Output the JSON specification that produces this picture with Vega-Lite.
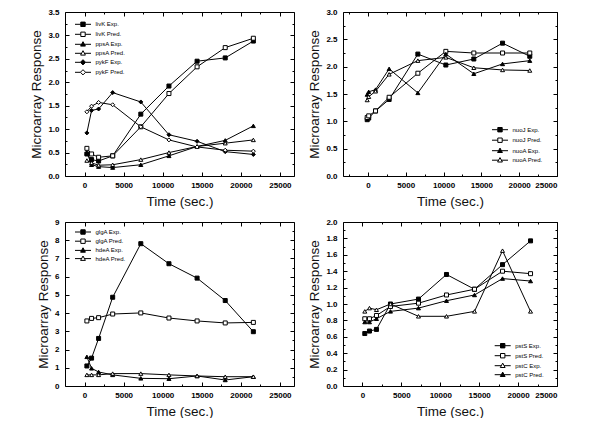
{
  "$schema": "https://vega.github.io/schema/vega-lite/v6.json",
  "background": "white",
  "padding": {"left": 29, "top": 8, "right": 0, "bottom": 0},
  "config": {
    "view": {"stroke": null},
    "axis": {
      "grid": false,
      "domainColor": "black",
      "domainWidth": 1,
      "tickColor": "black",
      "tickSize": -4,
      "tickWidth": 1,
      "labelFont": "Liberation Sans",
      "labelFontWeight": "bold",
      "labelFontSize": 8,
      "labelColor": "black",
      "titleFont": "Liberation Sans",
      "titleFontWeight": 400,
      "titleFontSize": 13.5,
      "titleColor": "#111"
    },
    "axisX": {"titlePadding": 5, "labelPadding": 9},
    "axisY": {"titlePadding": 4, "labelPadding": 10},
    "legend": {
      "title": null,
      "labelFont": "Liberation Sans",
      "labelFontSize": 6,
      "labelColor": "black",
      "symbolSize": 16,
      "symbolStrokeColor": "black",
      "symbolStrokeWidth": 1,
      "symbolOpacity": 1,
      "labelOffset": 9.5,
      "padding": 0
    }
  },
  "resolve": {"scale": {"x": "independent", "y": "independent", "shape": "independent", "fill": "independent"}, "axis": {"x": "independent", "y": "independent"}, "legend": {"shape": "independent", "fill": "independent"}},
  "spacing": 10,
  "vconcat": [
    {
      "spacing": 12,
      "resolve": {"scale": {"x": "independent", "y": "independent", "shape": "independent", "fill": "independent"}, "axis": {"x": "independent", "y": "independent"}, "legend": {"shape": "independent", "fill": "independent"}},
      "hconcat": [
        {
          "width": 229, "height": 164,
          "data": {"values": [
            {"t":300,"v":0.47,"s":"livK Exp."},{"t":900,"v":0.35,"s":"livK Exp."},{"t":1800,"v":0.32,"s":"livK Exp."},{"t":3600,"v":0.43,"s":"livK Exp."},{"t":7200,"v":1.32,"s":"livK Exp."},{"t":10800,"v":1.92,"s":"livK Exp."},{"t":14400,"v":2.45,"s":"livK Exp."},{"t":18000,"v":2.52,"s":"livK Exp."},{"t":21600,"v":2.88,"s":"livK Exp."},
            {"t":300,"v":0.59,"s":"livK Pred."},{"t":900,"v":0.47,"s":"livK Pred."},{"t":1800,"v":0.40,"s":"livK Pred."},{"t":3600,"v":0.43,"s":"livK Pred."},{"t":7200,"v":1.05,"s":"livK Pred."},{"t":10800,"v":1.76,"s":"livK Pred."},{"t":14400,"v":2.33,"s":"livK Pred."},{"t":18000,"v":2.74,"s":"livK Pred."},{"t":21600,"v":2.94,"s":"livK Pred."},
            {"t":300,"v":0.50,"s":"ppsA Exp."},{"t":900,"v":0.24,"s":"ppsA Exp."},{"t":1800,"v":0.20,"s":"ppsA Exp."},{"t":3600,"v":0.18,"s":"ppsA Exp."},{"t":7200,"v":0.24,"s":"ppsA Exp."},{"t":10800,"v":0.43,"s":"ppsA Exp."},{"t":14400,"v":0.63,"s":"ppsA Exp."},{"t":18000,"v":0.76,"s":"ppsA Exp."},{"t":21600,"v":1.07,"s":"ppsA Exp."},
            {"t":300,"v":0.33,"s":"ppsA Pred."},{"t":900,"v":0.28,"s":"ppsA Pred."},{"t":1800,"v":0.23,"s":"ppsA Pred."},{"t":3600,"v":0.24,"s":"ppsA Pred."},{"t":7200,"v":0.35,"s":"ppsA Pred."},{"t":10800,"v":0.50,"s":"ppsA Pred."},{"t":14400,"v":0.63,"s":"ppsA Pred."},{"t":18000,"v":0.70,"s":"ppsA Pred."},{"t":21600,"v":0.77,"s":"ppsA Pred."},
            {"t":300,"v":0.92,"s":"pykF Exp."},{"t":900,"v":1.40,"s":"pykF Exp."},{"t":1800,"v":1.43,"s":"pykF Exp."},{"t":3600,"v":1.78,"s":"pykF Exp."},{"t":7200,"v":1.58,"s":"pykF Exp."},{"t":10800,"v":0.88,"s":"pykF Exp."},{"t":14400,"v":0.74,"s":"pykF Exp."},{"t":18000,"v":0.52,"s":"pykF Exp."},{"t":21600,"v":0.46,"s":"pykF Exp."},
            {"t":300,"v":1.37,"s":"pykF Pred."},{"t":900,"v":1.49,"s":"pykF Pred."},{"t":1800,"v":1.57,"s":"pykF Pred."},{"t":3600,"v":1.52,"s":"pykF Pred."},{"t":7200,"v":1.05,"s":"pykF Pred."},{"t":10800,"v":0.77,"s":"pykF Pred."},{"t":14400,"v":0.62,"s":"pykF Pred."},{"t":18000,"v":0.55,"s":"pykF Pred."},{"t":21600,"v":0.53,"s":"pykF Pred."}
          ]},
          "resolve": {"axis": {"x": "independent", "y": "independent"}, "scale": {"shape": "independent", "fill": "independent"}},
          "layer": [
            {
              "mark": {"type": "line", "color": "black", "strokeWidth": 1},
              "encoding": {
                "x": {"field": "t", "type": "quantitative", "scale": {"domain": [-2500, 26800], "nice": false, "zero": false}, "axis": {"orient": "bottom", "values": [0,2500,5000,7500,10000,12500,15000,17500,20000,22500,25000], "format": "d", "labelExpr": "datum.value % 5000 === 0 ? datum.label : ''", "tickSize": {"condition": {"test": "datum.value % 5000 !== 0", "value": -2}, "value": -4}, "title": "Time (sec.)"}},
                "y": {"field": "v", "type": "quantitative", "scale": {"domain": [0, 3.5], "nice": false}, "axis": {"orient": "left", "values": [0,0.25,0.5,0.75,1,1.25,1.5,1.75,2,2.25,2.5,2.75,3,3.25,3.5], "format": ".1f", "labelExpr": "abs(datum.value*2 - round(datum.value*2)) < 0.01 ? datum.label : ''", "tickSize": {"condition": {"test": "abs(datum.value*2 - round(datum.value*2)) > 0.01", "value": -2}, "value": -4}, "title": "Microarray Response"}},
                "detail": {"field": "s"}
              }
            },
            {
              "mark": {"type": "point", "size": 16, "stroke": "black", "strokeWidth": 1, "opacity": 1},
              "encoding": {
                "x": {"field": "t", "type": "quantitative", "scale": {"domain": [-2500, 26800], "nice": false, "zero": false}, "axis": {"orient": "top", "values": [0,2500,5000,7500,10000,12500,15000,17500,20000,22500,25000], "tickSize": {"condition": {"test": "datum.value % 5000 !== 0", "value": -2}, "value": -4}, "labels": false, "title": null}},
                "y": {"field": "v", "type": "quantitative", "scale": {"domain": [0, 3.5], "nice": false}, "axis": {"orient": "right", "values": [0,0.25,0.5,0.75,1,1.25,1.5,1.75,2,2.25,2.5,2.75,3,3.25,3.5], "tickSize": {"condition": {"test": "abs(datum.value*2 - round(datum.value*2)) > 0.01", "value": -2}, "value": -4}, "labels": false, "title": null}},
                "shape": {"field": "s", "type": "nominal", "scale": {"domain": ["livK Exp.","livK Pred.","ppsA Exp.","ppsA Pred.","pykF Exp.","pykF Pred."], "range": ["square","square","triangle-up","triangle-up","diamond","diamond"]}, "legend": null},
                "fill": {"field": "s", "type": "nominal", "scale": {"domain": ["livK Exp.","livK Pred.","ppsA Exp.","ppsA Pred.","pykF Exp.","pykF Pred."], "range": ["black","white","black","white","black","white"]}, "legend": null}
              }
            },
            {
              "transform": [{"filter": "false"}],
              "mark": {"type": "point", "stroke": "black", "strokeWidth": 1, "opacity": 1},
              "encoding": {
                "x": {"field": "t", "type": "quantitative", "scale": {"domain": [-2500, 26800], "nice": false, "zero": false}, "axis": null},
                "y": {"field": "v", "type": "quantitative", "scale": {"domain": [0, 3.5], "nice": false}, "axis": null},
                "shape": {"field": "s", "type": "nominal", "scale": {"domain": ["livK Exp.","livK Pred.","ppsA Exp.","ppsA Pred.","pykF Exp.","pykF Pred."], "range": ["M-4,0H-1.1M1.1,0H4M-1.1,-1.1H1.1V1.1H-1.1Z","M-4,0H-1.1M1.1,0H4M-1.1,-1.1H1.1V1.1H-1.1Z","M-4,0H-0.7M0.7,0H4M0,-1.3L1.2,0.9H-1.2Z","M-4,0H-0.7M0.7,0H4M0,-1.3L1.2,0.9H-1.2Z","M-4,0H-1.3M1.3,0H4M0,-1.3L1.3,0L0,1.3L-1.3,0Z","M-4,0H-1.3M1.3,0H4M0,-1.3L1.3,0L0,1.3L-1.3,0Z"]},
                  "legend": {"orient": "none", "legendX": 15, "legendY": 9.3, "rowPadding": 0, "symbolStrokeColor": "black", "encode": {"symbols": {"update": {"stroke": {"value": "black"}, "strokeWidth": {"value": 1}}}}}},
                "fill": {"field": "s", "type": "nominal", "scale": {"domain": ["livK Exp.","livK Pred.","ppsA Exp.","ppsA Pred.","pykF Exp.","pykF Pred."], "range": ["black","white","black","white","black","white"]},
                  "legend": {"orient": "none", "legendX": 15, "legendY": 9.3, "rowPadding": 0, "symbolStrokeColor": "black", "encode": {"symbols": {"update": {"stroke": {"value": "black"}, "strokeWidth": {"value": 1}}}}}}
              }
            }
          ]
        },
        {
          "width": 214, "height": 164,
          "data": {"values": [
            {"t":-100,"v":1.03,"s":"nuoJ Exp."},{"t":100,"v":1.06,"s":"nuoJ Exp."},{"t":1000,"v":1.19,"s":"nuoJ Exp."},{"t":2800,"v":1.40,"s":"nuoJ Exp."},{"t":6600,"v":2.23,"s":"nuoJ Exp."},{"t":10300,"v":2.03,"s":"nuoJ Exp."},{"t":14000,"v":2.14,"s":"nuoJ Exp."},{"t":17800,"v":2.43,"s":"nuoJ Exp."},{"t":21400,"v":2.19,"s":"nuoJ Exp."},
            {"t":-100,"v":1.07,"s":"nuoJ Pred."},{"t":100,"v":1.10,"s":"nuoJ Pred."},{"t":1000,"v":1.19,"s":"nuoJ Pred."},{"t":2800,"v":1.44,"s":"nuoJ Pred."},{"t":6600,"v":1.88,"s":"nuoJ Pred."},{"t":10300,"v":2.28,"s":"nuoJ Pred."},{"t":14000,"v":2.25,"s":"nuoJ Pred."},{"t":17800,"v":2.25,"s":"nuoJ Pred."},{"t":21400,"v":2.25,"s":"nuoJ Pred."},
            {"t":-100,"v":1.49,"s":"nuoA Exp."},{"t":100,"v":1.54,"s":"nuoA Exp."},{"t":1000,"v":1.58,"s":"nuoA Exp."},{"t":2800,"v":1.96,"s":"nuoA Exp."},{"t":6600,"v":1.52,"s":"nuoA Exp."},{"t":10300,"v":2.23,"s":"nuoA Exp."},{"t":14000,"v":1.87,"s":"nuoA Exp."},{"t":17800,"v":2.05,"s":"nuoA Exp."},{"t":21400,"v":2.11,"s":"nuoA Exp."},
            {"t":-100,"v":1.39,"s":"nuoA Pred."},{"t":100,"v":1.45,"s":"nuoA Pred."},{"t":1000,"v":1.55,"s":"nuoA Pred."},{"t":2800,"v":1.86,"s":"nuoA Pred."},{"t":6600,"v":2.11,"s":"nuoA Pred."},{"t":10300,"v":2.17,"s":"nuoA Pred."},{"t":14000,"v":1.98,"s":"nuoA Pred."},{"t":17800,"v":1.94,"s":"nuoA Pred."},{"t":21400,"v":1.93,"s":"nuoA Pred."}
          ]},
          "resolve": {"axis": {"x": "independent", "y": "independent"}, "scale": {"shape": "independent", "fill": "independent"}},
          "layer": [
            {
              "mark": {"type": "line", "color": "black", "strokeWidth": 1},
              "encoding": {
                "x": {"field": "t", "type": "quantitative", "scale": {"domain": [-3300, 25000], "nice": false, "zero": false}, "axis": {"orient": "bottom", "values": [-2500,0,2500,5000,7500,10000,12500,15000,17500,20000,22500,25000], "format": "d", "labelExpr": "datum.value % 5000 === 0 ? datum.label : ''", "tickSize": {"condition": {"test": "datum.value % 5000 !== 0", "value": -2}, "value": -4}, "title": "Time (sec.)"}},
                "y": {"field": "v", "type": "quantitative", "scale": {"domain": [0, 3.0], "nice": false}, "axis": {"orient": "left", "values": [0,0.25,0.5,0.75,1,1.25,1.5,1.75,2,2.25,2.5,2.75,3], "format": ".1f", "labelExpr": "abs(datum.value*2 - round(datum.value*2)) < 0.01 ? datum.label : ''", "tickSize": {"condition": {"test": "abs(datum.value*2 - round(datum.value*2)) > 0.01", "value": -2}, "value": -4}, "title": "Microarray Response"}},
                "detail": {"field": "s"}
              }
            },
            {
              "mark": {"type": "point", "size": 16, "stroke": "black", "strokeWidth": 1, "opacity": 1},
              "encoding": {
                "x": {"field": "t", "type": "quantitative", "scale": {"domain": [-3300, 25000], "nice": false, "zero": false}, "axis": {"orient": "top", "values": [-2500,0,2500,5000,7500,10000,12500,15000,17500,20000,22500,25000], "tickSize": {"condition": {"test": "datum.value % 5000 !== 0", "value": -2}, "value": -4}, "labels": false, "title": null}},
                "y": {"field": "v", "type": "quantitative", "scale": {"domain": [0, 3.0], "nice": false}, "axis": {"orient": "right", "values": [0,0.25,0.5,0.75,1,1.25,1.5,1.75,2,2.25,2.5,2.75,3], "tickSize": {"condition": {"test": "abs(datum.value*2 - round(datum.value*2)) > 0.01", "value": -2}, "value": -4}, "labels": false, "title": null}},
                "shape": {"field": "s", "type": "nominal", "scale": {"domain": ["nuoJ Exp.","nuoJ Pred.","nuoA Exp.","nuoA Pred."], "range": ["square","square","triangle-up","triangle-up"]}, "legend": null},
                "fill": {"field": "s", "type": "nominal", "scale": {"domain": ["nuoJ Exp.","nuoJ Pred.","nuoA Exp.","nuoA Pred."], "range": ["black","white","black","white"]}, "legend": null}
              }
            },
            {
              "transform": [{"filter": "false"}],
              "mark": {"type": "point", "stroke": "black", "strokeWidth": 1, "opacity": 1},
              "encoding": {
                "x": {"field": "t", "type": "quantitative", "scale": {"domain": [-3300, 25000], "nice": false, "zero": false}, "axis": null},
                "y": {"field": "v", "type": "quantitative", "scale": {"domain": [0, 3.0], "nice": false}, "axis": null},
                "shape": {"field": "s", "type": "nominal", "scale": {"domain": ["nuoJ Exp.","nuoJ Pred.","nuoA Exp.","nuoA Pred."], "range": ["M-4,0H-1.1M1.1,0H4M-1.1,-1.1H1.1V1.1H-1.1Z","M-4,0H-1.1M1.1,0H4M-1.1,-1.1H1.1V1.1H-1.1Z","M-4,0H-0.7M0.7,0H4M0,-1.3L1.2,0.9H-1.2Z","M-4,0H-0.7M0.7,0H4M0,-1.3L1.2,0.9H-1.2Z"]},
                  "legend": {"orient": "none", "legendX": 154, "legendY": 114.7, "rowPadding": 0.5, "symbolStrokeColor": "black", "encode": {"symbols": {"update": {"stroke": {"value": "black"}, "strokeWidth": {"value": 1}}}}}},
                "fill": {"field": "s", "type": "nominal", "scale": {"domain": ["nuoJ Exp.","nuoJ Pred.","nuoA Exp.","nuoA Pred."], "range": ["black","white","black","white"]},
                  "legend": {"orient": "none", "legendX": 154, "legendY": 114.7, "rowPadding": 0.5, "symbolStrokeColor": "black", "encode": {"symbols": {"update": {"stroke": {"value": "black"}, "strokeWidth": {"value": 1}}}}}}
              }
            }
          ]
        }
      ]
    },
    {
      "spacing": 12,
      "resolve": {"scale": {"x": "independent", "y": "independent", "shape": "independent", "fill": "independent"}, "axis": {"x": "independent", "y": "independent"}, "legend": {"shape": "independent", "fill": "independent"}},
      "hconcat": [
        {
          "width": 229, "height": 164,
          "data": {"values": [
            {"t":300,"v":1.10,"s":"glgA Exp."},{"t":900,"v":1.53,"s":"glgA Exp."},{"t":1800,"v":2.61,"s":"glgA Exp."},{"t":3600,"v":4.87,"s":"glgA Exp."},{"t":7200,"v":7.81,"s":"glgA Exp."},{"t":10800,"v":6.71,"s":"glgA Exp."},{"t":14400,"v":5.92,"s":"glgA Exp."},{"t":18000,"v":4.69,"s":"glgA Exp."},{"t":21600,"v":2.98,"s":"glgA Exp."},
            {"t":300,"v":3.57,"s":"glgA Pred."},{"t":900,"v":3.71,"s":"glgA Pred."},{"t":1800,"v":3.75,"s":"glgA Pred."},{"t":3600,"v":3.95,"s":"glgA Pred."},{"t":7200,"v":4.01,"s":"glgA Pred."},{"t":10800,"v":3.73,"s":"glgA Pred."},{"t":14400,"v":3.57,"s":"glgA Pred."},{"t":18000,"v":3.46,"s":"glgA Pred."},{"t":21600,"v":3.49,"s":"glgA Pred."},
            {"t":300,"v":1.60,"s":"hdeA Exp."},{"t":900,"v":0.97,"s":"hdeA Exp."},{"t":1800,"v":0.77,"s":"hdeA Exp."},{"t":3600,"v":0.61,"s":"hdeA Exp."},{"t":7200,"v":0.42,"s":"hdeA Exp."},{"t":10800,"v":0.40,"s":"hdeA Exp."},{"t":14400,"v":0.55,"s":"hdeA Exp."},{"t":18000,"v":0.33,"s":"hdeA Exp."},{"t":21600,"v":0.51,"s":"hdeA Exp."},
            {"t":300,"v":0.61,"s":"hdeA Pred."},{"t":900,"v":0.61,"s":"hdeA Pred."},{"t":1800,"v":0.61,"s":"hdeA Pred."},{"t":3600,"v":0.68,"s":"hdeA Pred."},{"t":7200,"v":0.68,"s":"hdeA Pred."},{"t":10800,"v":0.61,"s":"hdeA Pred."},{"t":14400,"v":0.55,"s":"hdeA Pred."},{"t":18000,"v":0.51,"s":"hdeA Pred."},{"t":21600,"v":0.51,"s":"hdeA Pred."}
          ]},
          "resolve": {"axis": {"x": "independent", "y": "independent"}, "scale": {"shape": "independent", "fill": "independent"}},
          "layer": [
            {
              "mark": {"type": "line", "color": "black", "strokeWidth": 1},
              "encoding": {
                "x": {"field": "t", "type": "quantitative", "scale": {"domain": [-2500, 26800], "nice": false, "zero": false}, "axis": {"orient": "bottom", "values": [0,2500,5000,7500,10000,12500,15000,17500,20000,22500,25000], "format": "d", "labelExpr": "datum.value % 5000 === 0 ? datum.label : ''", "tickSize": {"condition": {"test": "datum.value % 5000 !== 0", "value": -2}, "value": -4}, "title": "Time (sec.)"}},
                "y": {"field": "v", "type": "quantitative", "scale": {"domain": [0, 9], "nice": false}, "axis": {"orient": "left", "values": [0,0.5,1,1.5,2,2.5,3,3.5,4,4.5,5,5.5,6,6.5,7,7.5,8,8.5,9], "format": "d", "labelExpr": "abs(datum.value - round(datum.value)) < 0.01 ? datum.label : ''", "tickSize": {"condition": {"test": "abs(datum.value - round(datum.value)) > 0.01", "value": -2}, "value": -4}, "title": "Microarray Response"}},
                "detail": {"field": "s"}
              }
            },
            {
              "mark": {"type": "point", "size": 16, "stroke": "black", "strokeWidth": 1, "opacity": 1},
              "encoding": {
                "x": {"field": "t", "type": "quantitative", "scale": {"domain": [-2500, 26800], "nice": false, "zero": false}, "axis": {"orient": "top", "values": [0,2500,5000,7500,10000,12500,15000,17500,20000,22500,25000], "tickSize": {"condition": {"test": "datum.value % 5000 !== 0", "value": -2}, "value": -4}, "labels": false, "title": null}},
                "y": {"field": "v", "type": "quantitative", "scale": {"domain": [0, 9], "nice": false}, "axis": {"orient": "right", "values": [0,0.5,1,1.5,2,2.5,3,3.5,4,4.5,5,5.5,6,6.5,7,7.5,8,8.5,9], "tickSize": {"condition": {"test": "abs(datum.value - round(datum.value)) > 0.01", "value": -2}, "value": -4}, "labels": false, "title": null}},
                "shape": {"field": "s", "type": "nominal", "scale": {"domain": ["glgA Exp.","glgA Pred.","hdeA Exp.","hdeA Pred."], "range": ["square","square","triangle-up","triangle-up"]}, "legend": null},
                "fill": {"field": "s", "type": "nominal", "scale": {"domain": ["glgA Exp.","glgA Pred.","hdeA Exp.","hdeA Pred."], "range": ["black","white","black","white"]}, "legend": null}
              }
            },
            {
              "transform": [{"filter": "false"}],
              "mark": {"type": "point", "stroke": "black", "strokeWidth": 1, "opacity": 1},
              "encoding": {
                "x": {"field": "t", "type": "quantitative", "scale": {"domain": [-2500, 26800], "nice": false, "zero": false}, "axis": null},
                "y": {"field": "v", "type": "quantitative", "scale": {"domain": [0, 9], "nice": false}, "axis": null},
                "shape": {"field": "s", "type": "nominal", "scale": {"domain": ["glgA Exp.","glgA Pred.","hdeA Exp.","hdeA Pred."], "range": ["M-4,0H-1.1M1.1,0H4M-1.1,-1.1H1.1V1.1H-1.1Z","M-4,0H-1.1M1.1,0H4M-1.1,-1.1H1.1V1.1H-1.1Z","M-4,0H-0.7M0.7,0H4M0,-1.3L1.2,0.9H-1.2Z","M-4,0H-0.7M0.7,0H4M0,-1.3L1.2,0.9H-1.2Z"]},
                  "legend": {"orient": "none", "legendX": 15, "legendY": 7, "rowPadding": -0.8, "symbolStrokeColor": "black", "encode": {"symbols": {"update": {"stroke": {"value": "black"}, "strokeWidth": {"value": 1}}}}}},
                "fill": {"field": "s", "type": "nominal", "scale": {"domain": ["glgA Exp.","glgA Pred.","hdeA Exp.","hdeA Pred."], "range": ["black","white","black","white"]},
                  "legend": {"orient": "none", "legendX": 15, "legendY": 7, "rowPadding": -0.8, "symbolStrokeColor": "black", "encode": {"symbols": {"update": {"stroke": {"value": "black"}, "strokeWidth": {"value": 1}}}}}}
              }
            }
          ]
        },
        {
          "width": 214, "height": 164,
          "data": {"values": [
            {"t":300,"v":0.64,"s":"pstS Exp."},{"t":900,"v":0.67,"s":"pstS Exp."},{"t":1800,"v":0.69,"s":"pstS Exp."},{"t":3600,"v":1.00,"s":"pstS Exp."},{"t":7200,"v":1.06,"s":"pstS Exp."},{"t":10800,"v":1.36,"s":"pstS Exp."},{"t":14400,"v":1.18,"s":"pstS Exp."},{"t":18000,"v":1.48,"s":"pstS Exp."},{"t":21600,"v":1.77,"s":"pstS Exp."},
            {"t":300,"v":0.82,"s":"pstS Pred."},{"t":900,"v":0.82,"s":"pstS Pred."},{"t":1800,"v":0.86,"s":"pstS Pred."},{"t":3600,"v":0.97,"s":"pstS Pred."},{"t":7200,"v":1.01,"s":"pstS Pred."},{"t":10800,"v":1.11,"s":"pstS Pred."},{"t":14400,"v":1.18,"s":"pstS Pred."},{"t":18000,"v":1.40,"s":"pstS Pred."},{"t":21600,"v":1.37,"s":"pstS Pred."},
            {"t":300,"v":0.91,"s":"pstC Exp."},{"t":900,"v":0.95,"s":"pstC Exp."},{"t":1800,"v":0.93,"s":"pstC Exp."},{"t":3600,"v":1.00,"s":"pstC Exp."},{"t":7200,"v":0.85,"s":"pstC Exp."},{"t":10800,"v":0.85,"s":"pstC Exp."},{"t":14400,"v":0.91,"s":"pstC Exp."},{"t":18000,"v":1.65,"s":"pstC Exp."},{"t":21600,"v":0.91,"s":"pstC Exp."},
            {"t":300,"v":0.78,"s":"pstC Pred."},{"t":900,"v":0.78,"s":"pstC Pred."},{"t":1800,"v":0.82,"s":"pstC Pred."},{"t":3600,"v":0.91,"s":"pstC Pred."},{"t":7200,"v":0.95,"s":"pstC Pred."},{"t":10800,"v":1.04,"s":"pstC Pred."},{"t":14400,"v":1.11,"s":"pstC Pred."},{"t":18000,"v":1.31,"s":"pstC Pred."},{"t":21600,"v":1.28,"s":"pstC Pred."}
          ]},
          "resolve": {"axis": {"x": "independent", "y": "independent"}, "scale": {"shape": "independent", "fill": "independent"}},
          "layer": [
            {
              "mark": {"type": "line", "color": "black", "strokeWidth": 1},
              "encoding": {
                "x": {"field": "t", "type": "quantitative", "scale": {"domain": [-2500, 25000], "nice": false, "zero": false}, "axis": {"orient": "bottom", "values": [0,2500,5000,7500,10000,12500,15000,17500,20000,22500,25000], "format": "d", "labelExpr": "datum.value % 5000 === 0 ? datum.label : ''", "tickSize": {"condition": {"test": "datum.value % 5000 !== 0", "value": -2}, "value": -4}, "title": "Time (sec.)"}},
                "y": {"field": "v", "type": "quantitative", "scale": {"domain": [0, 2.0], "nice": false}, "axis": {"orient": "left", "values": [0,0.1,0.2,0.3,0.4,0.5,0.6,0.7,0.8,0.9,1,1.1,1.2,1.3,1.4,1.5,1.6,1.7,1.8,1.9,2], "format": ".1f", "labelExpr": "abs(datum.value*5 - round(datum.value*5)) < 0.01 ? datum.label : ''", "tickSize": {"condition": {"test": "abs(datum.value*5 - round(datum.value*5)) > 0.01", "value": -2}, "value": -4}, "title": "Microarray Response"}},
                "detail": {"field": "s"}
              }
            },
            {
              "mark": {"type": "point", "size": 16, "stroke": "black", "strokeWidth": 1, "opacity": 1},
              "encoding": {
                "x": {"field": "t", "type": "quantitative", "scale": {"domain": [-2500, 25000], "nice": false, "zero": false}, "axis": {"orient": "top", "values": [0,2500,5000,7500,10000,12500,15000,17500,20000,22500,25000], "tickSize": {"condition": {"test": "datum.value % 5000 !== 0", "value": -2}, "value": -4}, "labels": false, "title": null}},
                "y": {"field": "v", "type": "quantitative", "scale": {"domain": [0, 2.0], "nice": false}, "axis": {"orient": "right", "values": [0,0.1,0.2,0.3,0.4,0.5,0.6,0.7,0.8,0.9,1,1.1,1.2,1.3,1.4,1.5,1.6,1.7,1.8,1.9,2], "tickSize": {"condition": {"test": "abs(datum.value*5 - round(datum.value*5)) > 0.01", "value": -2}, "value": -4}, "labels": false, "title": null}},
                "shape": {"field": "s", "type": "nominal", "scale": {"domain": ["pstS Exp.","pstS Pred.","pstC Exp.","pstC Pred."], "range": ["square","square","triangle-up","triangle-up"]}, "legend": null},
                "fill": {"field": "s", "type": "nominal", "scale": {"domain": ["pstS Exp.","pstS Pred.","pstC Exp.","pstC Pred."], "range": ["black","white","white","black"]}, "legend": null}
              }
            },
            {
              "transform": [{"filter": "false"}],
              "mark": {"type": "point", "stroke": "black", "strokeWidth": 1, "opacity": 1},
              "encoding": {
                "x": {"field": "t", "type": "quantitative", "scale": {"domain": [-2500, 25000], "nice": false, "zero": false}, "axis": null},
                "y": {"field": "v", "type": "quantitative", "scale": {"domain": [0, 2.0], "nice": false}, "axis": null},
                "shape": {"field": "s", "type": "nominal", "scale": {"domain": ["pstS Exp.","pstS Pred.","pstC Exp.","pstC Pred."], "range": ["M-4,0H-1.1M1.1,0H4M-1.1,-1.1H1.1V1.1H-1.1Z","M-4,0H-1.1M1.1,0H4M-1.1,-1.1H1.1V1.1H-1.1Z","M-4,0H-0.7M0.7,0H4M0,-1.3L1.2,0.9H-1.2Z","M-4,0H-0.7M0.7,0H4M0,-1.3L1.2,0.9H-1.2Z"]},
                  "legend": {"orient": "none", "legendX": 156.7, "legendY": 120.7, "rowPadding": 0, "symbolStrokeColor": "black", "encode": {"symbols": {"update": {"stroke": {"value": "black"}, "strokeWidth": {"value": 1}}}}}},
                "fill": {"field": "s", "type": "nominal", "scale": {"domain": ["pstS Exp.","pstS Pred.","pstC Exp.","pstC Pred."], "range": ["black","white","white","black"]},
                  "legend": {"orient": "none", "legendX": 156.7, "legendY": 120.7, "rowPadding": 0, "symbolStrokeColor": "black", "encode": {"symbols": {"update": {"stroke": {"value": "black"}, "strokeWidth": {"value": 1}}}}}}
              }
            }
          ]
        }
      ]
    }
  ]
}
